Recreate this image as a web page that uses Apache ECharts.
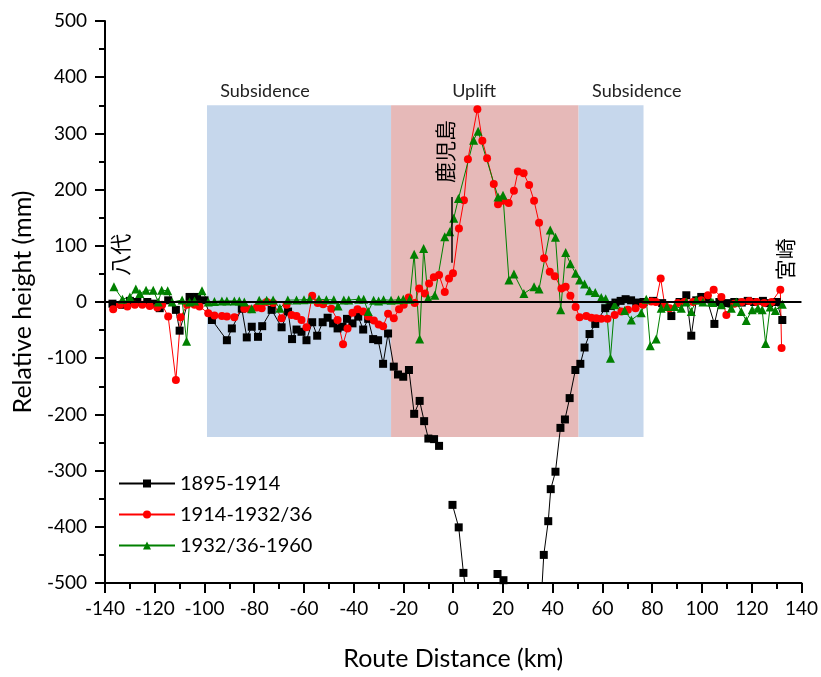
<!DOCTYPE html>
<html><head><meta charset="utf-8">
<script src="https://cdn.jsdelivr.net/npm/echarts@6/dist/echarts.min.js"></script>
<style>html,body{margin:0;padding:0;background:#fff}#c{width:821px;height:677px}</style>
</head><body><div id="c"></div>
<script>
const seriesNames = ['1895-1914', '1914-1932/36', '1932/36-1960'];
const xTicks = { min: -140, max: 140, step: 20 };
const yTicks = { min: -500, max: 500, step: 100 };

const s1895 = [[-137,-3],[-133,-5],[-130,2],[-127,0],[-123,0],[-120,-3],[-118,-11],[-114.6,3],[-111.5,-14],[-110,-51],[-106,9],[-103,9],[-100,3],[-97,-32],[-91,-68],[-89,-47],[-85,-12],[-83,-63],[-81,-44],[-78.5,-62],[-76.8,-43],[-73,-14],[-69,-45],[-66.4,-17],[-64.8,-66],[-63,-49],[-61,-53],[-59,-68],[-56.7,-36],[-54.7,-60],[-52.5,-36],[-50.5,-28],[-48.3,-38],[-46.5,-47],[-44.5,-44],[-42.7,-30],[-40.5,-38],[-38.2,-26],[-36.2,-49],[-34.2,-30],[-32.2,-66],[-30.2,-68],[-28.2,-110],[-26.2,-56],[-23.9,-115],[-22.2,-129],[-20.1,-133],[-17.8,-121],[-15.7,-199],[-13.5,-176],[-11.7,-212],[-10,-243],[-7.7,-244],[-5.7,-256],[-3,'-'],[-0.3,-361],[2.2,-401],[4.1,-482],[6.5,-560],[12,'-'],[17.8,-484],[20.2,-495],[24,-600],[30,-640],[35,-560],[36.4,-450],[38.2,-390],[39.2,-333],[41.1,-302],[43.1,-224],[44.9,-209],[46.8,-171],[49.1,-121],[51.1,-110],[52.8,-81],[54.8,-57],[57.1,-39],[61.1,-11],[63.2,-7],[65.2,-1],[67.3,2],[69.3,5],[71.5,3],[73.6,-1],[76.5,0],[80.3,2],[84,-2],[87.7,-25],[91,0],[93.7,12],[95.7,-60],[97.7,3],[99.7,9],[102,5],[105,-39],[107,0],[110,-2],[113,0],[116,-1],[118.4,2],[121,0],[124.5,2],[127,-2],[130,0],[132.3,-32]];

const s1914 = [[-136.7,-13],[-134,-5],[-131,-8],[-128,-5],[-125,-5],[-122,-7],[-119,-10],[-117,-5],[-114.6,-26],[-111.5,-139],[-109.6,-27],[-107,-5],[-104,-5],[-102,-8],[-98.5,-20],[-96,-24],[-93,-25],[-91,-26],[-88,-27],[-84,-12],[-81.8,-13],[-79,-10],[-77,-11],[-75,0],[-72.4,-2],[-69,-29],[-67,-5],[-65,-23],[-63,-25],[-61,-32],[-59,-45],[-56.7,11],[-54.5,-2],[-52.3,-4],[-49,-12],[-46.5,-32],[-44.3,-75],[-42.5,-47],[-40.5,-19],[-38.5,-13],[-36.2,-17],[-34.2,-26],[-31.9,-33],[-30,-40],[-28.2,-43],[-26.2,-21],[-23.9,-29],[-21.8,-13],[-19.9,-5],[-17.9,8],[-15.5,-2],[-13.7,24],[-11.4,15],[-9.7,33],[-7.8,44],[-5.7,48],[-3.4,18],[-1.7,42],[-0.1,51],[2.3,131],[4.3,181],[5.9,254],[9.7,343],[11.7,287],[13.6,256],[16.3,210],[18,174],[20,180],[22.3,176],[24.4,198],[26,232],[28.3,229],[30.5,208],[32.5,180],[34.5,141],[36.5,78],[38.8,54],[40.8,46],[43.5,24],[45.2,27],[47.1,11],[49.2,-9],[50.8,-27],[53.5,-25],[55.5,-28],[57.5,-29],[59.5,-30],[62,-30],[64.9,-23],[67.6,-17],[70.2,-14],[73.3,-11],[76.3,-5],[79.6,1],[81.5,0],[83.4,42],[85,-5],[87,-11],[90.3,-2],[93,0],[96.4,0],[99.7,3],[102.4,12],[104.7,22],[107.8,9],[109.8,-23],[113,-3],[116,0],[119,2],[122,0],[125,-2],[128,0],[131.5,22],[132,-82]];

const s1932 = [[-136.4,27],[-133,5],[-130,9],[-127.6,23],[-126,15],[-123.5,21],[-120.6,21],[-118.6,0],[-117.2,21],[-114.8,20],[-113,0],[-109,3.5],[-107.2,-70],[-106,0],[-104,2],[-101,20],[-98.5,0],[-96,1],[-93,2],[-91,2],[-88,2],[-86,2],[-84,0],[-81,-12],[-78,3],[-75,3],[-72.4,3.5],[-69.7,-11],[-66.5,3.5],[-63,3.5],[-60,4],[-57.7,5],[-54,5],[-51,4],[-48,4],[-46.3,-7],[-44,3.5],[-42,3.5],[-38,5],[-36,5],[-34.2,-17],[-32,3],[-30,2],[-28,4],[-25,3],[-22,4],[-20.1,5],[-17.5,5],[-15.7,85],[-13.5,-66],[-11.9,95],[-10.1,7],[-7.4,12],[-3.4,116],[-1.4,125],[0.2,149],[2.1,184],[8.2,288],[10,304],[18,187],[20,190],[22.4,39],[24.4,50],[28.4,15],[32.5,27],[34.5,23],[39,128],[41.1,115],[43.2,-14],[45.2,88],[47.1,68],[49.2,51],[50.8,39],[52.8,32],[54.8,20],[57.1,17],[59.5,8],[61.3,6],[63.2,-100],[64.9,-5],[68.9,-15],[71.6,-32],[75.6,-19],[77.6,5],[79.2,-78],[81.6,-66],[83.6,-11],[85.9,-8],[89,-8],[91.7,-11],[93.7,0],[95.7,-17],[97.7,3.5],[100.4,0],[103.7,0],[104.4,-1],[107.8,-5],[111.8,-11],[113.8,0],[115.8,-17],[117.8,-33],[120.2,-14],[122.5,-11],[124.2,-14],[125.6,-74],[127.4,-9],[129.5,-15],[132.3,-4]];

const zones = [
  { name: 'Subsidence', from: -99, to: -25, top: 350, bottom: -240, labelX: -75.7, color: '#c6d7ec' },
  { name: 'Uplift', from: -25, to: 50.4, top: 350, bottom: -240, labelX: 8.4, color: '#e6b9b8' },
  { name: 'Subsidence', from: 50.4, to: 76.5, top: 350, bottom: -240, labelX: 73.8, color: '#c6d7ec' }
];
const zoneLabelY = 375;
const places = [
  { name: '鹿児島', x: -3.4, y: 268 },
  { name: '八代', x: -134, y: 84 },
  { name: '宮崎', x: 133.2, y: 76 }
];
const pointerLine = { x: -0.6, from: 70, to: 187 };

const FONT = 'Lato, "Noto Sans", sans-serif';
const chart = echarts.init(document.getElementById('c'), null, { renderer: 'canvas' });

function lineSeries(name, data, color, symbol, size) {
  return {
    name, type: 'line', data, z: 3,
    symbol, symbolSize: size, showSymbol: true, connectNulls: false,
    lineStyle: { color, width: 1 },
    itemStyle: { color },
    animation: false, clip: true
  };
}

const option = {
  backgroundColor: '#fff',
  animation: false,
  grid: { left: 105, right: 19, top: 21, bottom: 94, containLabel: false },
  xAxis: {
    type: 'value', min: xTicks.min, max: xTicks.max, interval: xTicks.step,
    name: 'Route Distance (km)', nameLocation: 'middle', nameGap: 63,
    nameTextStyle: { fontFamily: FONT, fontSize: 25, color: '#000' },
    axisLine: { show: true, onZero: false, lineStyle: { color: '#000', width: 2 } },
    axisTick: { show: true, inside: false, length: 10, lineStyle: { color: '#000', width: 2 } },
    minorTick: { show: true, splitNumber: 2, length: 6, lineStyle: { color: '#000', width: 2 } },
    splitLine: { show: false },
    axisLabel: { fontFamily: FONT, fontSize: 19, color: '#000', margin: 16 }
  },
  yAxis: {
    type: 'value', min: yTicks.min, max: yTicks.max, interval: yTicks.step,
    name: 'Relative height (mm)', nameLocation: 'middle', nameGap: 70,
    nameTextStyle: { fontFamily: FONT, fontSize: 25, color: '#000' },
    axisLine: { show: true, onZero: false, lineStyle: { color: '#000', width: 2 } },
    axisTick: { show: true, inside: false, length: 10, lineStyle: { color: '#000', width: 2 } },
    minorTick: { show: true, splitNumber: 2, length: 6, lineStyle: { color: '#000', width: 2 } },
    splitLine: { show: false },
    axisLabel: { fontFamily: FONT, fontSize: 19, color: '#000', margin: 18 }
  },
  legend: {
    orient: 'vertical', left: 113, top: 468, itemGap: 10,
    itemWidth: 56, itemHeight: 10,
    data: seriesNames,
    textStyle: { fontFamily: FONT, fontSize: 20, color: '#000', lineHeight: 21 }
  },
  series: [
    {
      name: 'zones', type: 'line', data: [], z: 1, silent: true,
      markArea: {
        silent: true,
        data: zones.map(z => [
          { xAxis: z.from, yAxis: z.top, itemStyle: { color: z.color } },
          { xAxis: z.to, yAxis: z.bottom }
        ])
      },
      markLine: {
        silent: true, symbol: ['none', 'none'], animation: false,
        label: { show: false },
        data: [
          [{ coord: [xTicks.min, 0] }, { coord: [xTicks.max, 0] }],
        ],
        lineStyle: { color: '#000', width: 2, type: 'solid' }
      }
    },
    {
      name: 'annot', type: 'line', data: [], z: 2, silent: true,
      markLine: {
        silent: true, symbol: ['none', 'none'], animation: false,
        label: { show: false },
        data: [[{ coord: [pointerLine.x, pointerLine.from] }, { coord: [pointerLine.x, pointerLine.to] }]],
        lineStyle: { color: '#000', width: 1.5, type: 'solid' }
      },
      markPoint: {
        silent: true, symbol: 'circle', symbolSize: 0, animation: false,
        data: zones.map(z => ({
          coord: [z.labelX, zoneLabelY], name: z.name,
          label: { show: true, position: 'inside', formatter: '{b}', fontFamily: FONT, fontSize: 18, color: '#222' }
        })).concat(places.map(p => ({
          coord: [p.x, p.y], name: p.name,
          label: { show: true, position: 'inside', formatter: '{b}', rotate: 90, fontFamily: '"Noto Sans CJK JP", sans-serif', fontSize: 21, color: '#000' }
        })))
      }
    },
    lineSeries(seriesNames[0], s1895, '#000000', 'rect', 8),
    lineSeries(seriesNames[1], s1914, '#ff0000', 'circle', 8),
    lineSeries(seriesNames[2], s1932, '#008000', 'triangle', 9)
  ]
};
chart.setOption(option);
</script>
</body></html>
